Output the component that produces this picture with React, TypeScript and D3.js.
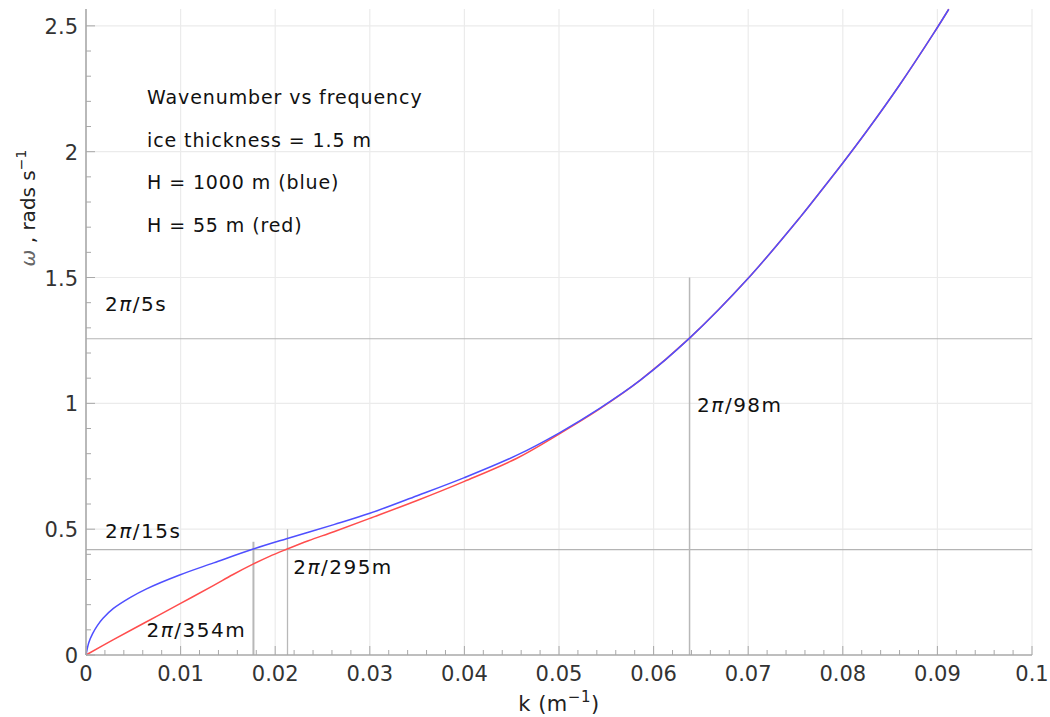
import React, { useEffect, useRef } from "react";
import * as d3 from "d3";

// wavenumber k (1/m) and angular frequency (rad/s)
const kBlue = [0, 0.0003, 0.0007, 0.0012, 0.0018, 0.0029, 0.0047, 0.0064, 0.0099, 0.0135, 0.0176, 0.0212, 0.0262, 0.03, 0.035, 0.04, 0.0455, 0.05, 0.0543, 0.0586, 0.0638, 0.07, 0.0755, 0.0774, 0.08, 0.0825, 0.086, 0.0896, 0.0912];
const wBlue = [0, 0.05, 0.085, 0.117, 0.146, 0.185, 0.229, 0.263, 0.318, 0.366, 0.42, 0.462, 0.518, 0.563, 0.633, 0.705, 0.793, 0.882, 0.98, 1.092, 1.259, 1.497, 1.74, 1.83, 1.955, 2.08, 2.265, 2.47, 2.566];

const kRed = [0, 0.0029, 0.0064, 0.0099, 0.0135, 0.0155, 0.0176, 0.0194, 0.0212, 0.0235, 0.0262, 0.03, 0.035, 0.04, 0.0455, 0.05, 0.0543, 0.0586, 0.0638, 0.07, 0.0755, 0.0774, 0.08, 0.0825, 0.086, 0.0896, 0.0912];
const wRed = [0, 0.061, 0.132, 0.203, 0.277, 0.319, 0.36, 0.392, 0.42, 0.454, 0.49, 0.543, 0.614, 0.69, 0.781, 0.878, 0.978, 1.092, 1.259, 1.497, 1.74, 1.83, 1.955, 2.08, 2.265, 2.47, 2.566];

const xTicks = [0, 0.01, 0.02, 0.03, 0.04, 0.05, 0.06, 0.07, 0.08, 0.09, 0.1];
const xTickLabels = ["0", "0.01", "0.02", "0.03", "0.04", "0.05", "0.06", "0.07", "0.08", "0.09", "0.1"];
const yTicks = [0, 0.5, 1, 1.5, 2, 2.5];
const yTickLabels = ["0", "0.5", "1", "1.5", "2", "2.5"];

// reference periods (s) and wavelengths (m)
const periodLines = [{ w: 1.2566, label: "/5s" }, { w: 0.4189, label: "/15s" }];
const wavelengthLines = [
  { k: 0.0177, top: 0.45, label: "/354m", lx: 0.0064, ly: 0.07, width: 2 },
  { k: 0.0213, top: 0.5, label: "/295m", lx: 0.0219, ly: 0.322, width: 1.3 },
  { k: 0.0638, top: 1.5, label: "/98m", lx: 0.0646, ly: 0.965, width: 1.5 },
];
const notes = ["Wavenumber vs frequency", "ice thickness = 1.5 m", "H = 1000 m (blue)", "H = 55 m (red)"];

const App = () => {
  const ref = useRef<SVGSVGElement>(null);

  useEffect(() => {
    const font = "'DejaVu Sans', Verdana, sans-serif";

    const svg = d3.select(ref.current);
    svg.selectAll("*").remove();

    const x = d3.scaleLinear().domain([0, 0.1]).range([86, 1032]);
    const y = d3.scaleLinear().domain([0, 2.567]).range([655, 9]);

    // grid
    svg.append("g")
      .selectAll("line")
      .data(xTicks.slice(1))
      .enter().append("line")
      .attr("x1", d => x(d)).attr("x2", d => x(d))
      .attr("y1", y(0)).attr("y2", y(2.567))
      .attr("stroke", "#ebebeb").attr("stroke-width", 1.2);
    svg.append("g")
      .selectAll("line")
      .data(yTicks.slice(1))
      .enter().append("line")
      .attr("x1", x(0)).attr("x2", x(0.1))
      .attr("y1", d => y(d)).attr("y2", d => y(d))
      .attr("stroke", "#ebebeb").attr("stroke-width", 1.2);

    // reference lines
    svg.append("g")
      .selectAll("line")
      .data(periodLines)
      .enter().append("line")
      .attr("x1", x(0)).attr("x2", x(0.1))
      .attr("y1", d => y(d.w)).attr("y2", d => y(d.w))
      .attr("stroke", "#b4b4b4").attr("stroke-width", 1.2);
    svg.append("g")
      .selectAll("line")
      .data(wavelengthLines)
      .enter().append("line")
      .attr("x1", d => x(d.k)).attr("x2", d => x(d.k))
      .attr("y1", y(0)).attr("y2", d => y(d.top))
      .attr("stroke", "#b8b8b8").attr("stroke-width", d => d.width);

    // curves
    const line = d3.line().curve(d3.curveCatmullRom.alpha(0.5));
    const redPts = kRed.map((k, i) => [x(k), y(wRed[i])] as [number, number]);
    const bluePts = kBlue.map((k, i) => [x(k), y(wBlue[i])] as [number, number]);
    svg.append("path")
      .attr("d", line(redPts))
      .attr("fill", "none").attr("stroke", "#ff4d4d").attr("stroke-width", 1.5);
    svg.append("path")
      .attr("d", line(bluePts))
      .attr("fill", "none").attr("stroke", "#4f4fff").attr("stroke-width", 1.5);

    // axes
    const axisColor = "#a8a8a8";
    const xMinor = d3.range(0, 0.1001, 0.002);
    const yMinor = d3.range(0, 2.55, 0.1);
    const ax = svg.append("g");
    ax.selectAll("line.xm")
      .data(xMinor)
      .enter().append("line")
      .attr("x1", d => x(d)).attr("x2", d => x(d))
      .attr("y1", y(0)).attr("y2", d => y(0) - (Math.abs(d * 100 - Math.round(d * 100)) < 1e-6 ? 9 : 5))
      .attr("stroke", axisColor).attr("stroke-width", 1);
    ax.selectAll("line.ym")
      .data(yMinor)
      .enter().append("line")
      .attr("x1", x(0)).attr("x2", d => x(0) + (Math.abs(d * 2 - Math.round(d * 2)) < 1e-6 ? 9 : 5))
      .attr("y1", d => y(d)).attr("y2", d => y(d))
      .attr("stroke", axisColor).attr("stroke-width", 1);
    ax.append("line")
      .attr("x1", x(0)).attr("x2", x(0.1)).attr("y1", y(0)).attr("y2", y(0))
      .attr("stroke", axisColor).attr("stroke-width", 1.6);
    ax.append("line")
      .attr("x1", x(0)).attr("x2", x(0)).attr("y1", y(0)).attr("y2", y(2.567))
      .attr("stroke", axisColor).attr("stroke-width", 1.6);

    ax.selectAll("text.xt")
      .data(xTicks)
      .enter().append("text")
      .attr("x", d => x(d)).attr("y", 681)
      .attr("text-anchor", "middle")
      .style("font-family", font).style("font-size", "21px").attr("fill", "#333")
      .text((d, i) => xTickLabels[i]);
    ax.selectAll("text.yt")
      .data(yTicks)
      .enter().append("text")
      .attr("x", 78).attr("y", d => y(d) + 8)
      .attr("text-anchor", "end")
      .style("font-family", font).style("font-size", "21px").attr("fill", "#333")
      .text((d, i) => yTickLabels[i]);

    // axis titles
    const xt = svg.append("text")
      .attr("x", 559).attr("y", 711)
      .attr("text-anchor", "middle")
      .style("font-family", font).style("font-size", "21px").style("letter-spacing", "0.5px").attr("fill", "#222");
    xt.append("tspan").text("k (m");
    xt.append("tspan").attr("dy", -9).style("font-size", "15px").text("\u22121");
    xt.append("tspan").attr("dy", 9).text(")");

    const yt = svg.append("text")
      .attr("transform", "translate(35,208) rotate(-90)")
      .attr("text-anchor", "middle")
      .style("font-family", font).style("font-size", "20px").attr("fill", "#222");
    yt.append("tspan").style("font-style", "italic").attr("fill", "#666").text("\u03c9");
    yt.append("tspan").text(" , rads s");
    yt.append("tspan").attr("dy", -9).style("font-size", "14px").text("\u22121");

    // annotation labels
    const addPiLabel = (px: number, py: number, rest: string) => {
      const t = svg.append("text")
        .attr("x", px).attr("y", py)
        .style("font-family", font).style("font-size", "20px").style("letter-spacing", "1.5px").attr("fill", "#111");
      t.append("tspan").text("2");
      t.append("tspan").style("font-style", "italic").text("\u03c0");
      t.append("tspan").text(rest);
    };
    addPiLabel(105, 311, periodLines[0].label);
    addPiLabel(105, 538, periodLines[1].label);
    wavelengthLines.forEach(d => addPiLabel(x(d.lx), y(d.ly), d.label));

    svg.append("g")
      .selectAll("text")
      .data(notes)
      .enter().append("text")
      .attr("x", 147).attr("y", (d, i) => 104 + i * 42.5)
      .style("font-family", font).style("font-size", "19px").style("letter-spacing", "0.9px").attr("fill", "#111")
      .text(d => d);
  }, []);

  return (
    <svg
      ref={ref}
      width={1050}
      height={717}
      style={{ position: "absolute", left: 0, top: 0, background: "#fff" }}
    ></svg>
  );
};

export default App;
